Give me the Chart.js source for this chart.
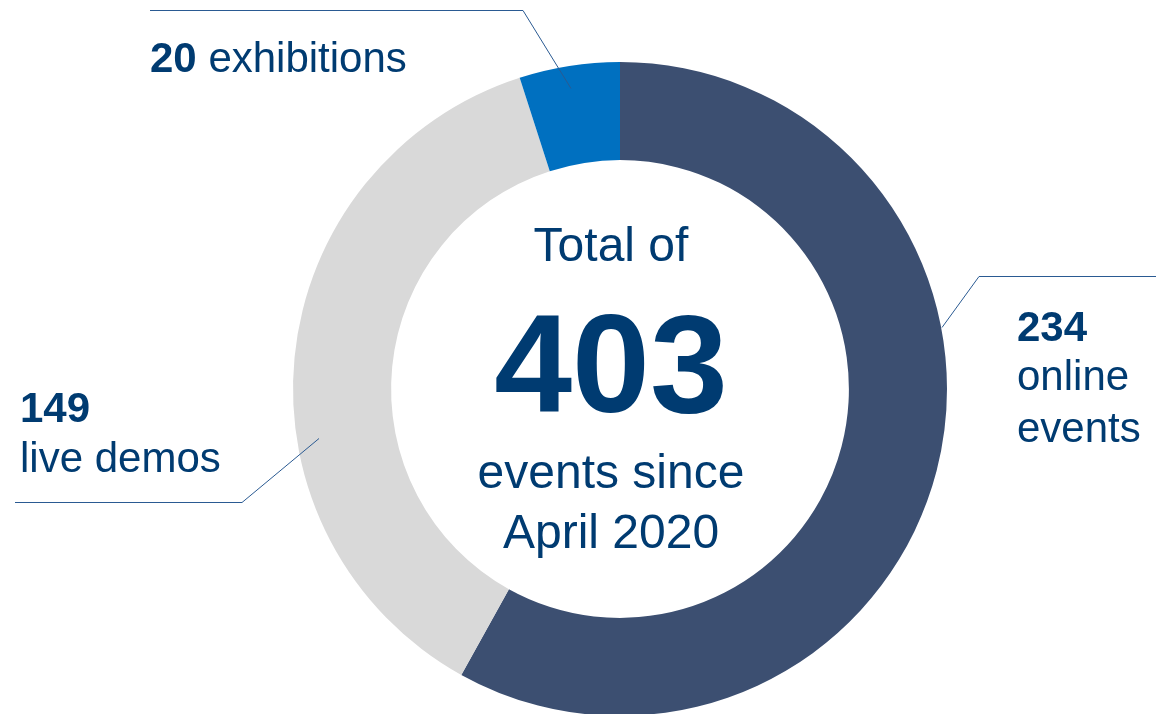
<!DOCTYPE html>
<html>
<head>
<meta charset="utf-8">
<script src="https://cdn.jsdelivr.net/npm/chart.js@4.4.0/dist/chart.umd.min.js"></script>
<style>
    html, body { margin: 0; padding: 0; background: #fff; overflow: hidden; }
    #wrap { position: absolute; left: 0; top: 0; width: 1156px; height: 720px; }
</style>
</head>
<body>
<div id="wrap"><canvas id="chart" width="1156" height="720"></canvas></div>
<script>
// data
const categories = ['online events', 'live demos', 'exhibitions'];
const counts = [234, 149, 20];
const sliceColors = ['#3C4F71', '#D9D9D9', '#0070C0'];
const centerLines = ['Total of', 'events since', 'April 2020'];

const total = counts.reduce((a, b) => a + b, 0);
const textColor = '#003B71';
const lineColor = '#2A5A92';

// callouts: text lines + leader line path (layout only)
const callouts = [
    { idx: 0, x: 1017, lines: [341, 390, 442], words: ['online', 'events'], path: [[942, 327], [979, 276], [1156, 276]] },
    { idx: 1, x: 20, lines: [422, 472], words: ['live demos'], path: [[319, 438], [242, 502], [15, 502]] },
    { idx: 2, x: 150, lines: [72], words: ['exhibitions'], path: [[571, 88], [523, 10], [150, 10]] }
];

const labelPlugin = {
    id: 'labels',
    afterDraw(chart) {
        const ctx = chart.ctx;
        const arc = chart.getDatasetMeta(0).data[0];
        // center text sits a little left of the ring centre in the original
        const cx = arc.x - 9;
        ctx.save();
        ctx.fillStyle = textColor;
        ctx.textAlign = 'center';
        ctx.textBaseline = 'alphabetic';
        ctx.font = '48px "Liberation Sans", Arial, sans-serif';
        ctx.fillText(centerLines[0], cx, 261);
        ctx.font = 'bold 140px "Liberation Sans", Arial, sans-serif';
        ctx.fillText(String(total), cx, 412);
        ctx.font = '48px "Liberation Sans", Arial, sans-serif';
        ctx.fillText(centerLines[1], cx, 488);
        ctx.fillText(centerLines[2], cx, 548);

        // leader lines
        ctx.strokeStyle = lineColor;
        ctx.lineWidth = 1;
        callouts.forEach(c => {
            ctx.beginPath();
            c.path.forEach((p, i) => i ? ctx.lineTo(p[0], p[1] + 0.5) : ctx.moveTo(p[0], p[1] + 0.5));
            ctx.stroke();
        });

        // callout text
        ctx.textAlign = 'left';
        callouts.forEach(c => {
            const boldFont = 'bold 42px "Liberation Sans", Arial, sans-serif';
            const regFont = '42px "Liberation Sans", Arial, sans-serif';
            const num = String(counts[c.idx]);
            if (c.lines.length === 1) {
                ctx.font = boldFont;
                ctx.fillText(num, c.x, c.lines[0]);
                const w = ctx.measureText(num + ' ').width;
                ctx.font = regFont;
                ctx.fillText(c.words[0], c.x + w, c.lines[0]);
            } else {
                ctx.font = boldFont;
                ctx.fillText(num, c.x, c.lines[0]);
                ctx.font = regFont;
                c.words.forEach((wd, i) => ctx.fillText(wd, c.x, c.lines[i + 1]));
            }
        });
        ctx.restore();
    }
};

new Chart(document.getElementById('chart'), {
    type: 'doughnut',
    data: {
        labels: categories,
        datasets: [{
            data: counts,
            backgroundColor: sliceColors,
            borderWidth: 0
        }]
    },
    options: {
        responsive: false,
        animation: false,
        cutout: '70%',
        layout: { padding: { left: 293, right: 209, top: 62, bottom: 4 } },
        plugins: {
            legend: { display: false },
            tooltip: { enabled: false }
        }
    },
    plugins: [labelPlugin]
});
</script>
</body>
</html>
